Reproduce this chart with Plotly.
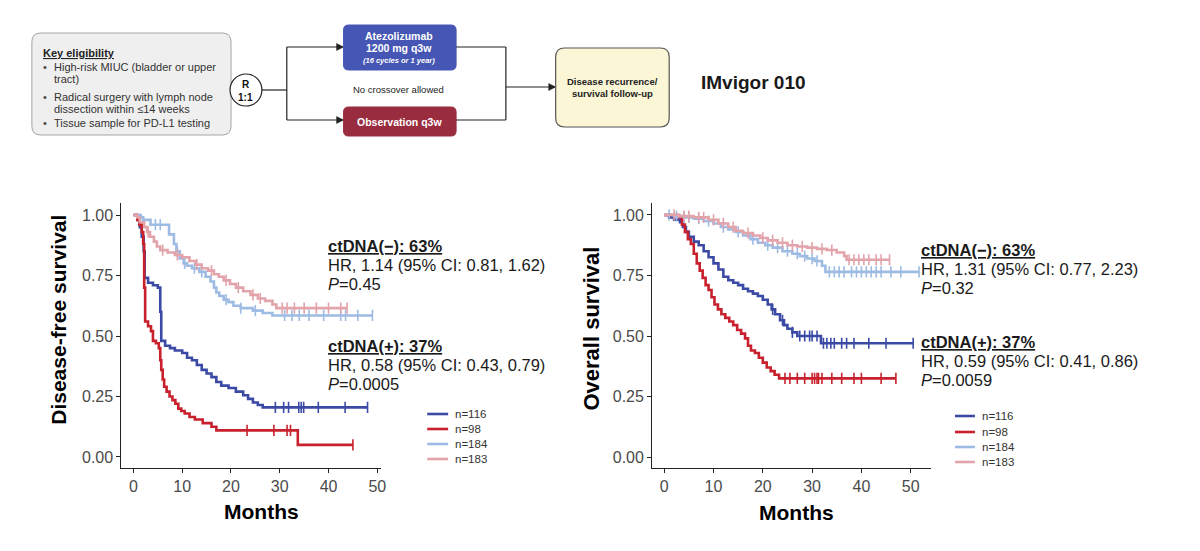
import numpy as np
import plotly.graph_objects as go

W, H = 1200, 551
def px(x): return x / W
def py(y): return 1 - y / H

FONT = "Liberation Sans, Arial, sans-serif"

# ---------------- DATA ----------------
legend_labels = ["n=116", "n=98", "n=184", "n=183"]
colors = ["#3b4aa5", "#c8212d", "#9dbbe3", "#e2a3aa"]
x_ticks = [0, 10, 20, 30, 40, 50]
y_ticks = [0, 0.25, 0.5, 0.75, 1.0]
y_ticktext = ["0.00", "0.25", "0.50", "0.75", "1.00"]

# Disease-free survival (left)
dfs_blue_t = [0, 0.8, 1.3, 1.7, 2.1, 2.3, 3.0, 4.0, 5.0, 5.5, 5.7, 6.5, 7.5, 8.5, 10.0, 11.0, 12.0, 13.0,
              14.0, 15.0, 16.0, 17.0, 18.0, 19.5, 21.0, 22.5, 23.5, 24.5, 25.5, 26.5]
dfs_blue_s = [1.0, 0.98, 0.95, 0.91, 0.85, 0.74, 0.72, 0.71, 0.70, 0.60, 0.48, 0.46, 0.45, 0.44, 0.43, 0.41,
              0.40, 0.38, 0.36, 0.345, 0.33, 0.31, 0.295, 0.285, 0.27, 0.255, 0.24, 0.225, 0.215, 0.205]
dfs_blue_end = 48.0
dfs_blue_cens = [29.1, 30.8, 31.8, 33.9, 34.4, 34.9, 37.9, 43.4, 48.0]

dfs_red_t = [0, 0.8, 1.2, 1.7, 2.0, 2.2, 2.4, 3.0, 3.6, 4.0, 4.6, 5.2, 5.5, 5.7, 6.0, 6.3, 6.8, 7.4, 8.0,
             8.6, 9.2, 9.8, 10.5, 11.5, 12.6, 14.2, 16.0, 17.0, 33.7]
dfs_red_s = [1.0, 0.98, 0.96, 0.93, 0.88, 0.70, 0.56, 0.54, 0.52, 0.48, 0.47, 0.45, 0.40, 0.36, 0.32, 0.29,
             0.27, 0.25, 0.235, 0.22, 0.20, 0.19, 0.18, 0.165, 0.155, 0.14, 0.125, 0.11, 0.05]
dfs_red_end = 45.0
dfs_red_cens = [23.3, 28.8, 31.5, 32.2, 45.0]

dfs_lblue_t = [0, 1.5, 2.0, 3.5, 7.3, 8.3, 8.8, 9.5, 10.3, 11.0, 12.0, 13.5, 14.8, 15.8, 16.5, 17.0, 17.6,
               18.5, 19.5, 20.5, 22.0, 24.5, 26.5, 28.5]
dfs_lblue_s = [1.0, 0.99, 0.98, 0.96, 0.92, 0.88, 0.85, 0.82, 0.80, 0.79, 0.78, 0.765, 0.745, 0.725, 0.70,
               0.68, 0.665, 0.65, 0.64, 0.625, 0.615, 0.605, 0.595, 0.585]
dfs_lblue_end = 49.0
dfs_lblue_cens = [4.5, 5.5, 9.0, 10.5, 12.5, 14.0, 19.0, 22.0, 25.0, 31.0, 32.5, 34.0, 36.0, 39.0, 42.5,
                  43.5, 46.0, 49.0]

dfs_pink_t = [0, 0.8, 1.3, 2.2, 2.8, 3.4, 4.2, 4.8, 5.5, 7.0, 8.5, 10.0, 11.5, 12.8, 14.0, 15.3, 16.5, 17.5,
              18.5, 19.8, 21.0, 22.5, 24.0, 25.5, 27.0, 28.5, 29.3]
dfs_pink_s = [1.0, 0.99, 0.97, 0.95, 0.93, 0.91, 0.89, 0.87, 0.855, 0.845, 0.835, 0.825, 0.81, 0.795, 0.78,
              0.77, 0.755, 0.745, 0.73, 0.715, 0.70, 0.685, 0.67, 0.655, 0.645, 0.63, 0.615]
dfs_pink_end = 43.8
dfs_pink_cens = [3.0, 6.0, 9.0, 13.0, 16.0, 19.0, 21.5, 24.5, 26.0, 30.5, 31.5, 33.0, 35.0, 37.5, 40.0,
                 42.5, 43.8]

# Overall survival (right)
os_blue_t = [0, 1.0, 2.0, 3.2, 3.8, 4.4, 5.0, 6.0, 7.0, 8.0, 9.0, 10.0, 11.0, 12.0, 13.0, 14.0, 15.0, 16.0,
             17.0, 18.0, 19.0, 20.0, 21.0, 21.8, 22.5, 23.5, 24.3, 25.0, 26.0, 27.0, 31.8]
os_blue_s = [1.0, 0.99, 0.98, 0.97, 0.95, 0.93, 0.91, 0.89, 0.875, 0.85, 0.825, 0.80, 0.775, 0.745, 0.73,
             0.72, 0.71, 0.695, 0.685, 0.675, 0.665, 0.65, 0.63, 0.61, 0.59, 0.565, 0.545, 0.53, 0.515, 0.50,
             0.47]
os_blue_end = 50.5
os_blue_cens = [22.0, 24.0, 26.0, 27.5, 28.5, 29.5, 30.0, 31.0, 32.3, 33.0, 33.8, 34.5, 36.0, 37.0, 38.5,
                41.5, 45.0, 50.5]

os_red_t = [0, 3.0, 3.6, 4.2, 4.8, 5.4, 6.0, 6.6, 7.2, 7.8, 8.4, 9.0, 9.6, 10.2, 10.9, 11.6, 12.4, 13.2,
            14.0, 14.8, 15.6, 16.4, 17.0, 17.6, 18.4, 19.2, 20.0, 20.8, 21.6, 22.4, 23.3]
os_red_s = [1.0, 0.99, 0.96, 0.93, 0.90, 0.88, 0.84, 0.80, 0.77, 0.74, 0.71, 0.69, 0.66, 0.63, 0.61, 0.59,
            0.575, 0.56, 0.545, 0.525, 0.51, 0.49, 0.46, 0.44, 0.43, 0.41, 0.39, 0.37, 0.355, 0.34, 0.325]
os_red_end = 47.0
os_red_cens = [24.5, 25.5, 27.0, 28.5, 30.0, 30.5, 31.0, 31.3, 32.0, 34.0, 36.0, 38.5, 40.0, 44.0, 47.0]

os_lblue_t = [0, 2, 4, 6, 8, 10, 11.5, 13, 14.5, 16, 17.5, 19, 20.5, 22, 24, 26, 27.5, 29, 30.5, 32, 32.7]
os_lblue_s = [1.0, 0.995, 0.99, 0.985, 0.975, 0.965, 0.95, 0.94, 0.93, 0.915, 0.90, 0.885, 0.875, 0.865,
              0.85, 0.84, 0.83, 0.82, 0.81, 0.79, 0.765]
os_lblue_end = 51.7
os_lblue_cens = [1, 2.5, 4, 5, 7, 9, 12, 15, 18, 21, 23, 25, 27, 28.5, 30, 31, 33.5, 34.5, 35.5, 36.5, 38,
                 39, 40, 41, 42, 43, 44, 46, 48, 51.7]

os_pink_t = [0, 3, 6, 9, 11, 13, 14.5, 16, 18, 19.5, 21, 23, 25, 27, 29, 31, 33, 35, 36.5, 37]
os_pink_s = [1.0, 0.995, 0.99, 0.98, 0.965, 0.95, 0.935, 0.925, 0.915, 0.905, 0.895, 0.885, 0.875, 0.87,
             0.865, 0.86, 0.855, 0.845, 0.83, 0.815]
os_pink_end = 45.7
os_pink_cens = [2, 4, 5, 7, 8, 10, 12, 14, 17, 20, 22, 24, 26, 28, 30, 32, 34, 37.5, 38.5, 39.5, 40.5,
                41.5, 43, 44, 45.7]

dfs_curves = [(dfs_blue_t, dfs_blue_s, dfs_blue_end, dfs_blue_cens),
              (dfs_red_t, dfs_red_s, dfs_red_end, dfs_red_cens),
              (dfs_lblue_t, dfs_lblue_s, dfs_lblue_end, dfs_lblue_cens),
              (dfs_pink_t, dfs_pink_s, dfs_pink_end, dfs_pink_cens)]
os_curves = [(os_blue_t, os_blue_s, os_blue_end, os_blue_cens),
             (os_red_t, os_red_s, os_red_end, os_red_cens),
             (os_lblue_t, os_lblue_s, os_lblue_end, os_lblue_cens),
             (os_pink_t, os_pink_s, os_pink_end, os_pink_cens)]

dfs_text = [("<u><b>ctDNA(−): 63%</b></u>", "HR, 1.14 (95% CI: 0.81, 1.62)", "<i>P</i>=0.45"),
            ("<u><b>ctDNA(+): 37%</b></u>", "HR, 0.58 (95% CI: 0.43, 0.79)", "<i>P</i>=0.0005")]
os_text = [("<u><b>ctDNA(−): 63%</b></u>", "HR, 1.31 (95% CI: 0.77, 2.23)", "<i>P</i>=0.32"),
           ("<u><b>ctDNA(+): 37%</b></u>", "HR, 0.59 (95% CI: 0.41, 0.86)", "<i>P</i>=0.0059")]

# ---------------- FIGURE ----------------
fig = go.Figure()

def add_curves(curves, xa, ya):
    for (t, s, end, cens), col, lab in zip(curves, colors, legend_labels):
        t = np.asarray(t, float); s = np.asarray(s, float)
        xs = np.append(t, end); ys = np.append(s, s[-1])
        fig.add_trace(go.Scatter(x=xs, y=ys, mode="lines", line=dict(color=col, width=2.6, shape="hv"),
                                 xaxis=xa, yaxis=ya, showlegend=False, name=lab, hoverinfo="skip"))
        c = np.asarray(cens, float)
        idx = np.searchsorted(t, c, side="right") - 1
        fig.add_trace(go.Scatter(x=c, y=s[idx], mode="markers",
                                 marker=dict(symbol="line-ns-open", size=8, color=col,
                                             line=dict(color=col, width=1.6)),
                                 xaxis=xa, yaxis=ya, showlegend=False, hoverinfo="skip"))

add_curves(dfs_curves, "x", "y")
add_curves(os_curves, "x2", "y2")

axis_common = dict(showline=True, linecolor="#222", linewidth=1.3, ticks="outside", ticklen=4,
                   tickwidth=1.2, tickcolor="#222", showgrid=False, zeroline=False,
                   tickfont=dict(family=FONT, size=16, color="#4a4a4a"))
ydom = [py(468), py(203)]
fig.update_layout(
    width=W, height=H, margin=dict(l=0, r=0, t=0, b=0),
    paper_bgcolor="white", plot_bgcolor="white",
    font=dict(family=FONT),
    xaxis=dict(domain=[px(122), px(383)], range=[-2.45, 50.84], tickvals=x_ticks, anchor="y", **axis_common),
    yaxis=dict(domain=ydom, range=[-0.0455, 1.0496], tickvals=y_ticks, ticktext=y_ticktext, anchor="x",
               **axis_common),
    xaxis2=dict(domain=[px(655), px(935)], range=[-2.42, 54.14], tickvals=x_ticks, anchor="y2", **axis_common),
    yaxis2=dict(domain=ydom, range=[-0.0453, 1.0494], tickvals=y_ticks, ticktext=y_ticktext, anchor="x2",
                **axis_common),
)

ann = []
shapes = []

def text(x, y, s, size, color="#111", xanchor="left", bold=False, angle=0, family=FONT):
    if bold:
        s = "<b>" + s + "</b>"
    ann.append(dict(x=px(x), y=py(y), xref="paper", yref="paper", text=s, showarrow=False,
                    xanchor=xanchor, yanchor="middle", textangle=angle,
                    font=dict(family=family, size=size, color=color)))

# axis titles
text(58, 320, "Disease-free survival", 21, "#000", "center", True, -90)
text(593, 329, "Overall survival", 22, "#000", "center", True, -90)
text(263, 511, "Months", 21, "#000", "center", True)
text(800, 512, "Months", 21, "#000", "center", True)

# HR annotations
for (lines, x0, ys) in [(dfs_text[0], 327, [246, 265, 284]), (dfs_text[1], 327, [346, 365, 384]),
                        (os_text[0], 923, [250, 269, 288]), (os_text[1], 923, [342, 361, 380])]:
    for ln, yy in zip(lines, ys):
        text(x0, yy, ln, 16.5, "#1a1a1a")

# legends
for (x0, x1, xt, rows) in [(429, 450, 455, [414, 429, 444, 459]), (959, 979, 984, [416, 432, 447, 462])]:
    for col, lab, yy in zip(colors, legend_labels, rows):
        shapes.append(dict(type="line", xref="paper", yref="paper", x0=px(x0), x1=px(x1), y0=py(yy), y1=py(yy),
                           line=dict(color=col, width=2.6)))
        text(xt, yy, lab, 11.5, "#333")

# ---------------- study schema ----------------
def rrect(x0, y0, x1, y1, r, fill, line, lw=1):
    rx, ry = r, r
    pts = [
        f"M {px(x0+rx)},{py(y0)}", f"L {px(x1-rx)},{py(y0)}", f"Q {px(x1)},{py(y0)} {px(x1)},{py(y0+ry)}",
        f"L {px(x1)},{py(y1-ry)}", f"Q {px(x1)},{py(y1)} {px(x1-rx)},{py(y1)}",
        f"L {px(x0+rx)},{py(y1)}", f"Q {px(x0)},{py(y1)} {px(x0)},{py(y1-ry)}",
        f"L {px(x0)},{py(y0+ry)}", f"Q {px(x0)},{py(y0)} {px(x0+rx)},{py(y0)}", "Z"]
    shapes.append(dict(type="path", xref="paper", yref="paper", path=" ".join(pts),
                       fillcolor=fill, line=dict(color=line, width=lw)))

def seg(x0, y0, x1, y1, color="#222", w=1.2):
    shapes.append(dict(type="line", xref="paper", yref="paper", x0=px(x0), y0=py(y0), x1=px(x1), y1=py(y1),
                       line=dict(color=color, width=w)))

def head(x, y):
    path = f"M {px(x)},{py(y)} L {px(x-7)},{py(y-3.5)} L {px(x-7)},{py(y+3.5)} Z"
    shapes.append(dict(type="path", xref="paper", yref="paper", path=path, fillcolor="#222",
                       line=dict(color="#222", width=0.5)))

rrect(32, 33, 232, 135, 9, "#efefef", "#a5a5a5", 1)
text(41, 53, "<u>Key eligibility</u>", 11, "#222", bold=True)
for yy, bullet, s in [(67, True, "High-risk MIUC (bladder or upper"), (79, False, "tract)"),
                      (97, True, "Radical surgery with lymph node"), (109, False, "dissection within ≤14 weeks"),
                      (123, True, "Tissue sample for PD-L1 testing")]:
    if bullet:
        text(41, yy, "•", 11, "#444")
    text(52, yy, s, 11, "#333")

# randomisation circle
shapes.append(dict(type="circle", xref="paper", yref="paper", x0=px(231), x1=px(263), y0=py(74), y1=py(106),
                   fillcolor="white", line=dict(color="#222", width=1.2)))
text(247, 84, "R", 10, "#111", "center", True)
text(247, 97, "1:1", 10, "#111", "center", True)

seg(263, 90, 288, 90)
seg(288, 47, 288, 120)
seg(288, 47, 344, 47); head(345, 47)
seg(288, 120, 344, 120); head(345, 120)

rrect(345, 25, 458, 70, 5, "#4656b4", "#4656b4")
text(401, 36, "Atezolizumab", 10.5, "white", "center", True)
text(401, 48.5, "1200 mg q3w", 10.5, "white", "center", True)
text(401, 60, "<i>(16 cycles or 1 year)</i>", 7.5, "white", "center", True)

text(400, 90, "No crossover allowed", 9.5, "#222", "center")

rrect(345, 107, 458, 136, 5, "#9a2c40", "#9a2c40")
text(401, 122, "Observation q3w", 10.5, "white", "center", True)

seg(458, 47, 508, 47)
seg(458, 120, 508, 120)
seg(508, 47, 508, 120)
seg(508, 87, 557, 87); head(558, 87)

rrect(558, 48, 672, 127, 9, "#fbf6d6", "#555", 1.2)
text(615, 81, "Disease recurrence/", 9.5, "#222", "center", True)
text(615, 93, "survival follow-up", 9.5, "#222", "center", True)

text(702, 82, "IMvigor 010", 19, "#1a1a1a", "left", True)

fig.update_layout(annotations=ann, shapes=shapes)
fig.write_html("out.html")
